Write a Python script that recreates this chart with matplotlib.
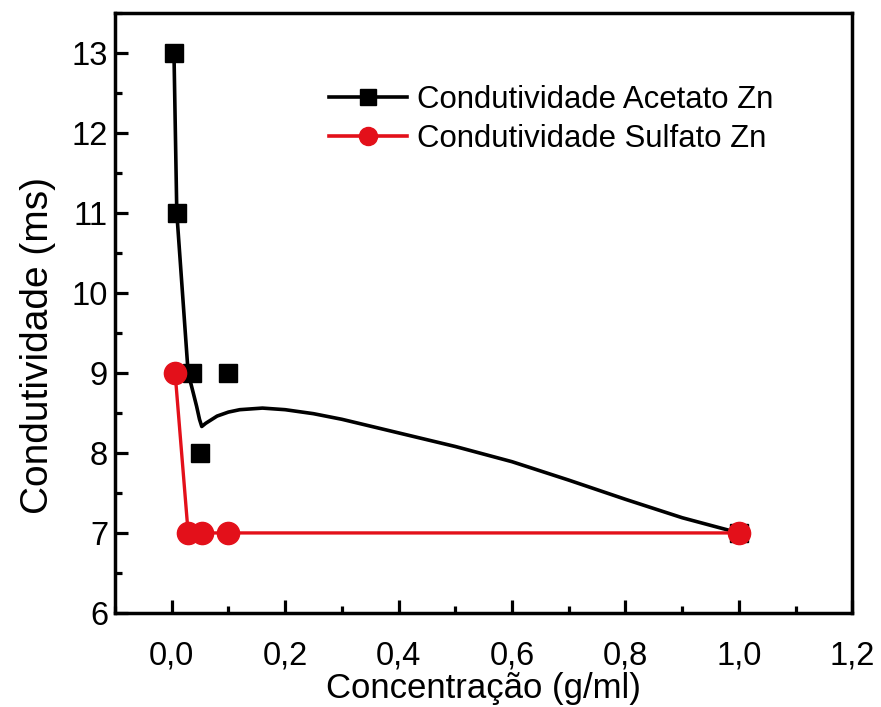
import matplotlib
matplotlib.use("Agg")
import matplotlib.pyplot as plt
from matplotlib.lines import Line2D
from matplotlib.ticker import MultipleLocator, FuncFormatter

plt.rcParams['font.family'] = ['Liberation Sans', 'DejaVu Sans']

# measured points
acetato_x = [0.004, 0.009, 0.036, 0.05, 0.1, 1.0]
acetato_y = [13, 11, 9, 8, 9, 7]

sulfato_x = [0.006, 0.029, 0.053, 0.1, 1.0]
sulfato_y = [9, 7, 7, 7, 7]

# smoothed curve of the acetato series
curve_x = [0.004, 0.009, 0.019, 0.029, 0.038, 0.044, 0.049, 0.053, 0.060,
           0.080, 0.100, 0.120, 0.160, 0.200, 0.250, 0.300, 0.400, 0.500,
           0.600, 0.700, 0.800, 0.900, 1.0]
curve_y = [13.0, 11.0, 10.0, 9.0, 8.75, 8.58, 8.42, 8.33, 8.37,
           8.46, 8.51, 8.54, 8.56, 8.54, 8.49, 8.42, 8.25, 8.08,
           7.89, 7.66, 7.42, 7.19, 7.0]

labels = ["Condutividade Acetato Zn", "Condutividade Sulfato Zn"]
red = "#E3101A"

fig = plt.figure(figsize=(8.81, 7.07), dpi=100)
ax = fig.add_axes([0.1305, 0.133, 0.837, 0.849])

ax.plot(curve_x, curve_y, color="black", lw=2.6, zorder=2,
        solid_joinstyle="round")
ax.plot(acetato_x, acetato_y, ls="none", marker="s", ms=13.5, color="black", zorder=3)
ax.plot(sulfato_x, sulfato_y, color=red, lw=2.4, marker="o", ms=16, zorder=4)

ax.set_xlim(-0.1, 1.2)
ax.set_ylim(6, 13.5)
ax.xaxis.set_major_locator(MultipleLocator(0.2))
ax.xaxis.set_minor_locator(MultipleLocator(0.1))
ax.yaxis.set_major_locator(MultipleLocator(1))
ax.yaxis.set_minor_locator(MultipleLocator(0.5))
ax.xaxis.set_major_formatter(FuncFormatter(lambda v, p: f"{v:.1f}".replace(".", ",")))
ax.yaxis.set_major_formatter(FuncFormatter(lambda v, p: f"{v:.0f}"))

ax.tick_params(which="both", direction="in", top=False, right=False, width=2.3)
ax.tick_params(which="major", length=9.5, labelsize=23.5)
ax.tick_params(which="minor", length=5)
ax.tick_params(axis="x", which="major", pad=20)
ax.tick_params(axis="y", which="major", pad=5)
for s in ax.spines.values():
    s.set_linewidth(2.5)

ax.set_xlabel("Concentração (g/ml)", fontsize=25, labelpad=0)
ax.set_ylabel("Condutividade (ms)", fontsize=28)
ax.yaxis.set_label_coords(-0.080, 0.445)

handles = [
    Line2D([], [], color="black", lw=2.6, marker="s", ms=11),
    Line2D([], [], color=red, lw=2.6, marker="o", ms=13),
]
ax.legend(handles, labels, loc="upper left", bbox_to_anchor=(0.29, 0.88),
          frameon=False, fontsize=22.4, handlelength=2.5, handletextpad=0.32,
          labelspacing=0.3, borderpad=0, borderaxespad=0)

fig.savefig("out.png", dpi=100)
